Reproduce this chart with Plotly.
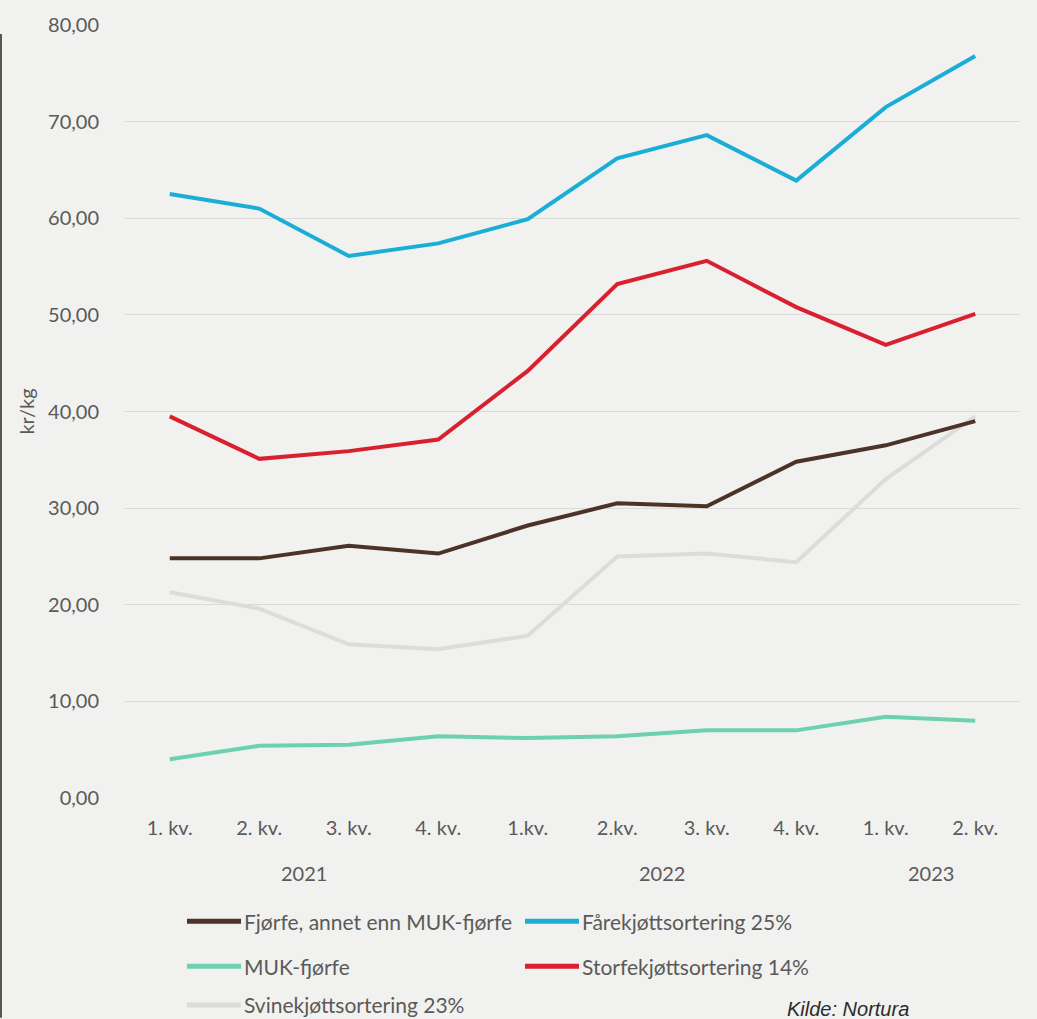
import plotly.graph_objects as go

quarters = ["1. kv.", "2. kv.", "3. kv.", "4. kv.", "1.kv.", "2.kv.", "3. kv.", "4. kv.", "1. kv.", "2. kv."]
years = ["2021", "2022", "2023"]
year_centers = [1.5, 5.5, 8.5]

fjorfe = [24.8, 24.8, 26.1, 25.3, 28.2, 30.5, 30.2, 34.8, 36.5, 39.0]
fare = [62.5, 61.0, 56.1, 57.4, 59.9, 66.2, 68.6, 63.9, 71.5, 76.8]
muk = [4.0, 5.4, 5.5, 6.4, 6.2, 6.4, 7.0, 7.0, 8.4, 8.0]
storfe = [39.5, 35.1, 35.9, 37.1, 44.2, 53.2, 55.6, 50.8, 46.9, 50.1]
svin = [21.3, 19.6, 15.9, 15.4, 16.8, 25.0, 25.3, 24.4, 33.0, 39.5]

series = [
    ("Svinekjøttsortering 23%", svin, "#dcdcd8"),
    ("MUK-fjørfe", muk, "#6dd1b0"),
    ("Storfekjøttsortering 14%", storfe, "#d9202e"),
    ("Fårekjøttsortering 25%", fare, "#1aaed6"),
    ("Fjørfe, annet enn MUK-fjørfe", fjorfe, "#4b3328"),
]

W, H = 1037, 1019
L, R, T, B = 125, 17, 21, 221
pw, ph = W - L - R, H - T - B

def px(x):
    return (x - L) / pw

def py(y):
    return (H - B - y) / ph

fig = go.Figure()
xs = list(range(len(quarters)))
for name, vals, col in series:
    fig.add_trace(go.Scatter(x=xs, y=vals, mode="lines", name=name,
                             line=dict(color=col, width=4), showlegend=False))

font_family = "Lato, 'Open Sans', sans-serif"
tick_col = "#5a5a5a"

fig.update_layout(
    width=W, height=H,
    margin=dict(l=L, r=R, t=T, b=B, pad=0),
    paper_bgcolor="#f1f1ef", plot_bgcolor="#f1f1ef",
    font=dict(family=font_family, color=tick_col, size=20),
    xaxis=dict(range=[-0.5, 9.5], tickvals=xs, ticktext=quarters, showgrid=False,
               zeroline=False, showline=False, ticks="outside", ticklen=12,
               tickcolor="rgba(0,0,0,0)", tickfont=dict(size=20, color=tick_col)),
    yaxis=dict(range=[0, 80], dtick=10, tickformat=".2f",
               showgrid=True, gridcolor="#dadad8", gridwidth=1, zeroline=False,
               showline=False, ticks="outside", ticklen=21, tickcolor="rgba(0,0,0,0)",
               tickfont=dict(size=20, color=tick_col),
               title=dict(text="kr/kg", font=dict(size=20, color=tick_col), standoff=8)),
    separators=",.",
    showlegend=False,
)

annotations = []
shapes = []
for yr, xc in zip(years, year_centers):
    annotations.append(dict(x=xc, xref="x", y=py(873), yref="paper", text=yr,
                            showarrow=False, yanchor="middle", xanchor="center",
                            font=dict(size=20, color=tick_col)))

legend_items = [
    ("Fjørfe, annet enn MUK-fjørfe", "#4b3328", 187, 922),
    ("Fårekjøttsortering 25%", "#1aaed6", 525, 922),
    ("MUK-fjørfe", "#6dd1b0", 187, 967),
    ("Storfekjøttsortering 14%", "#d9202e", 525, 967),
    ("Svinekjøttsortering 23%", "#dcdcd8", 187, 1006),
]
for name, col, x0, y0 in legend_items:
    shapes.append(dict(type="line", xref="paper", yref="paper", x0=px(x0), x1=px(x0 + 54),
                       y0=py(y0), y1=py(y0), line=dict(color=col, width=5)))
    annotations.append(dict(x=px(x0 + 55), xref="paper", y=py(y0), yref="paper", text=name,
                            showarrow=False, xanchor="left", yanchor="middle",
                            font=dict(size=21, color=tick_col)))

annotations.append(dict(x=px(785), xref="paper", y=py(997), yref="paper",
                        text="<i>Kilde: Nortura</i>", showarrow=False, xanchor="left",
                        yanchor="top", font=dict(size=20, color="#2b2b2b",
                                                 family="'Liberation Sans', Arial, sans-serif")))

shapes.append(dict(type="line", xref="paper", yref="paper", x0=px(1), x1=px(1),
                   y0=py(30), y1=py(1019), line=dict(color="#555555", width=2)))

fig.update_layout(annotations=annotations, shapes=shapes)
fig.write_html("out.html", config={"displayModeBar": False},
               post_script="document.body.style.margin='0';document.body.style.overflow='hidden';")
